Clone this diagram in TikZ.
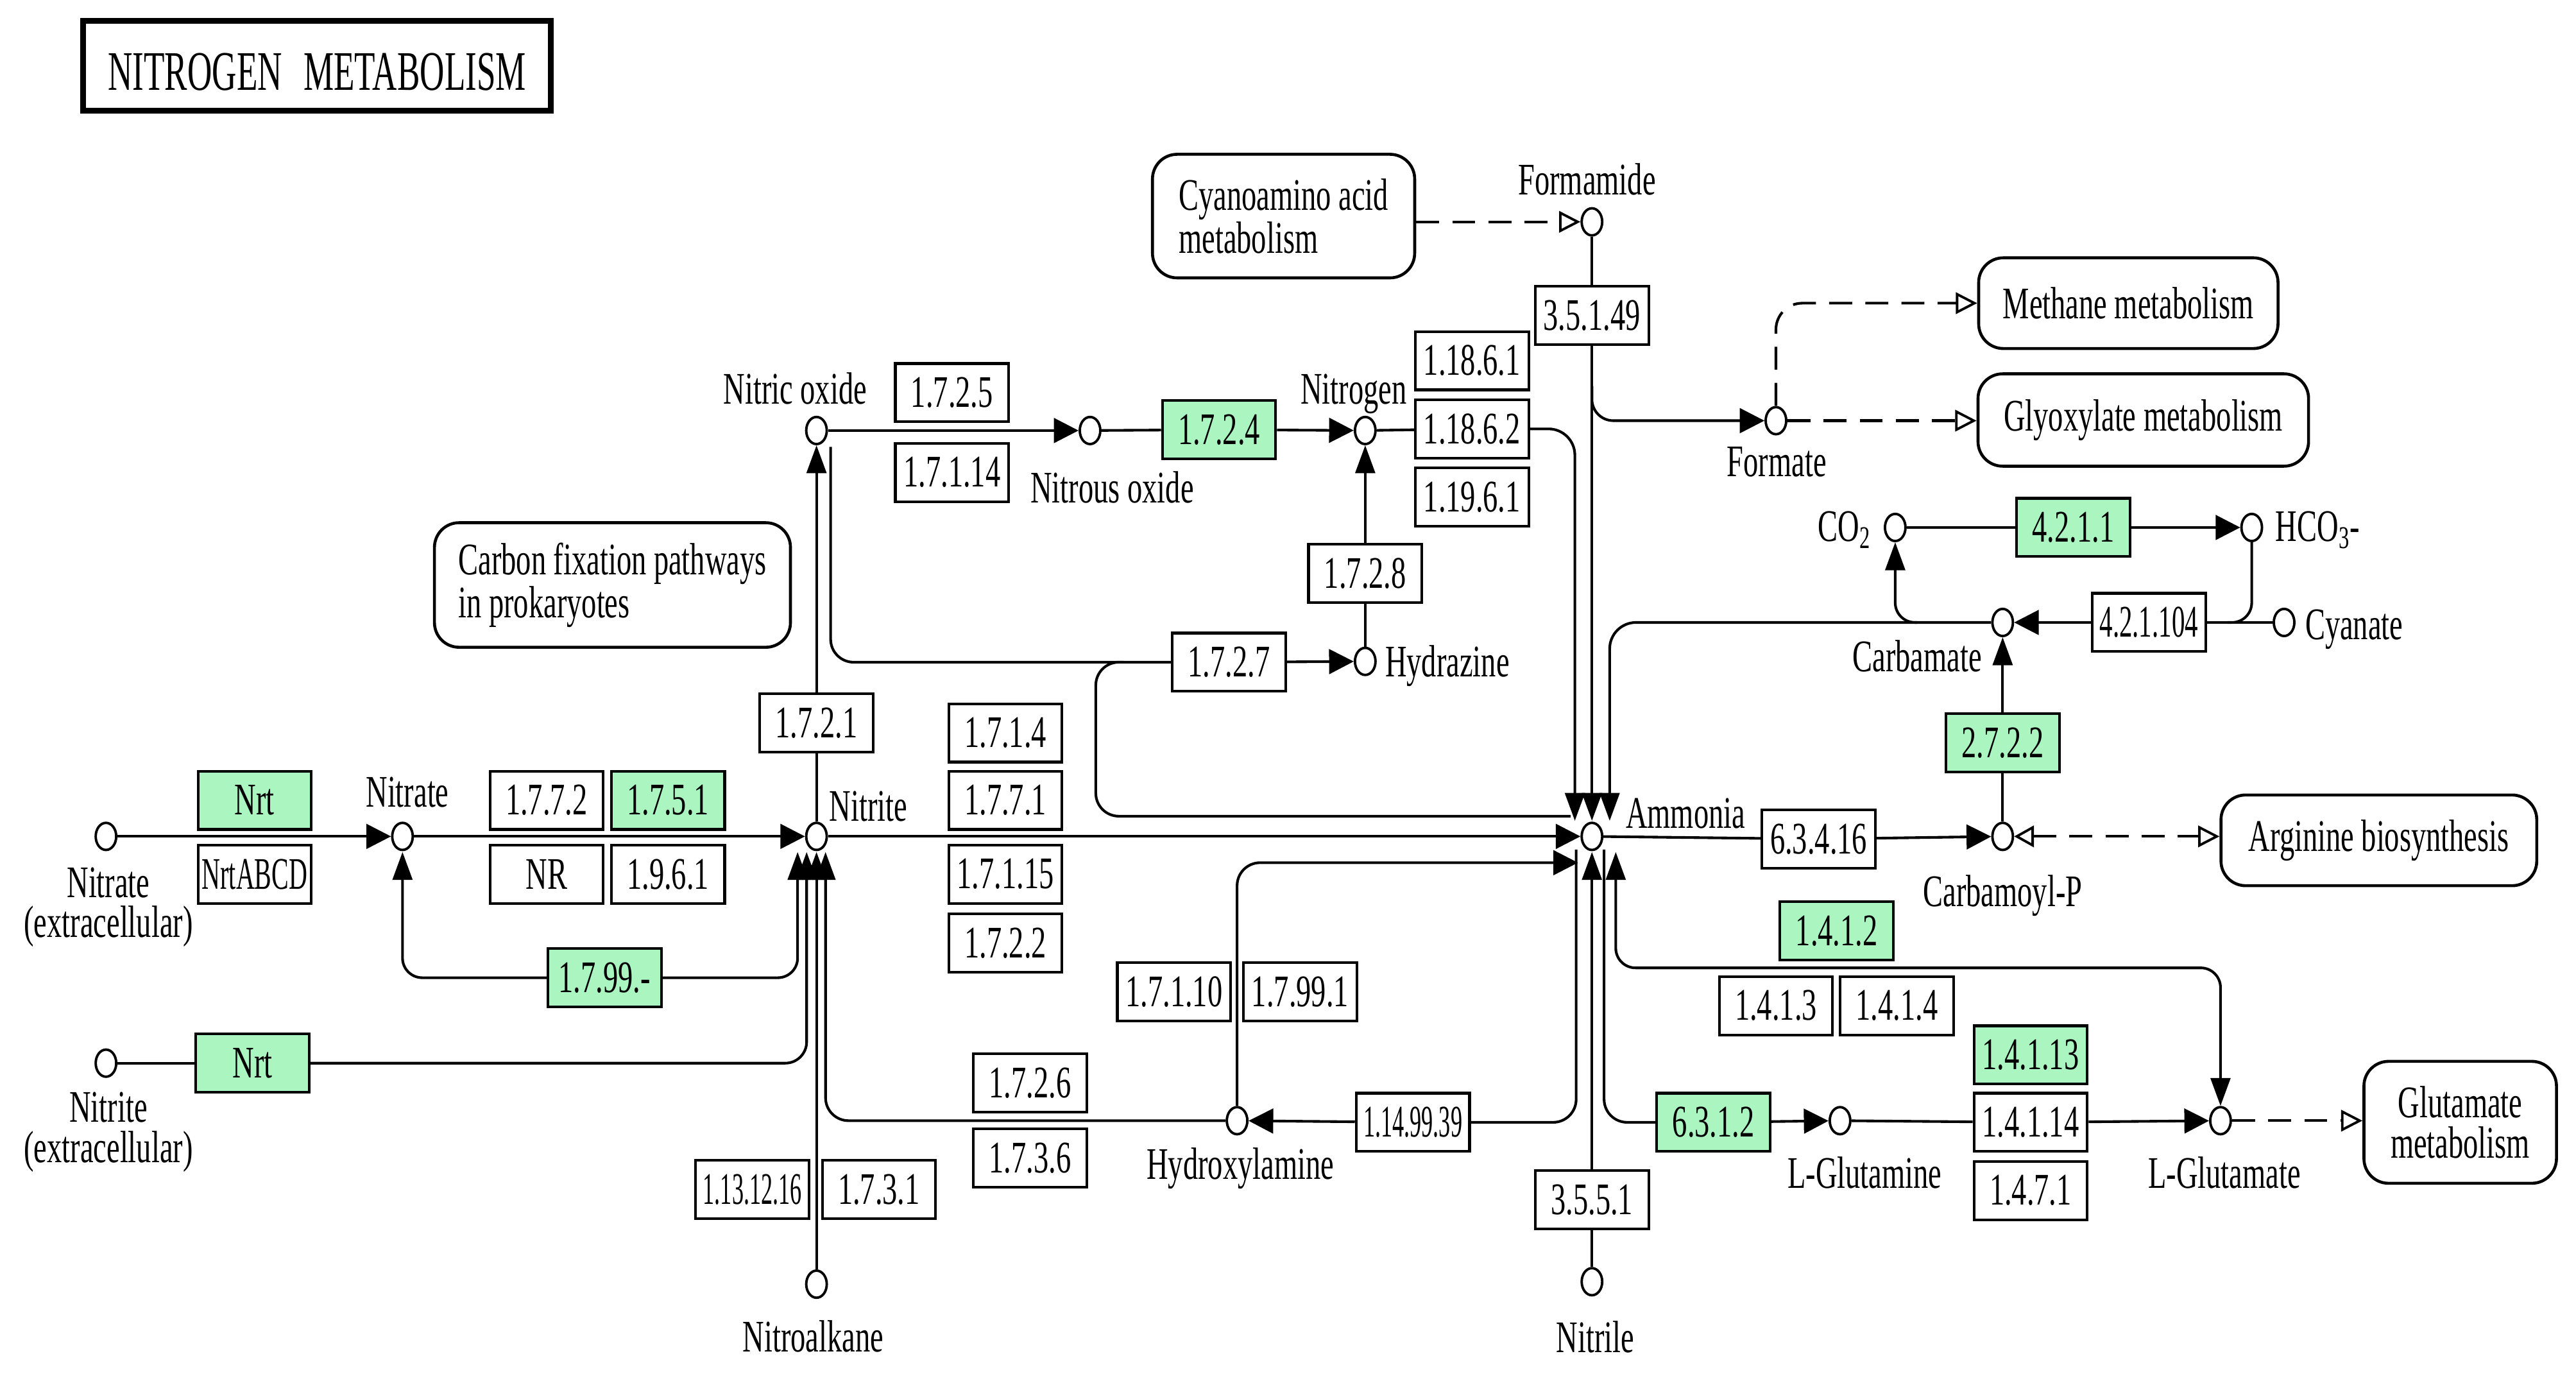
\documentclass[tikz,border=0pt]{standalone}
\usepackage{fontspec}
\setmainfont{Liberation Serif}[FakeStretch=0.66]
\newfontfamily\titlefont{Liberation Serif}[FakeStretch=0.61]
\usepackage{graphicx}
\usetikzlibrary{arrows.meta,shapes.geometric,calc}
\definecolor{kgreen}{RGB}{170,245,192}
\newcommand\kfs{\fontsize{27.5}{24.5}\selectfont}
\newcommand\sq[2]{\scalebox{#1}[1]{#2}}
\tikzset{
  conn/.style={line width=1.6pt},
  harr/.style={conn,-{Triangle[length=15pt,width=15pt]}},
  varr/.style={conn,-{Triangle[length=17pt,width=12pt]}},
  vboth/.style={conn,{Triangle[length=17pt,width=12pt]}-{Triangle[length=17pt,width=12pt]}},
  dsh/.style={line width=1.6pt,dash pattern=on 14pt off 8pt},
  oarr/.style={dsh,-{Triangle[open,length=13pt,width=13pt,line width=1.5pt]}},
  oboth/.style={dsh,{Triangle[open,length=12pt,width=13pt,line width=1.5pt]}-{Triangle[open,length=13pt,width=13pt,line width=1.5pt]}},
  enz/.style={draw,line width=1.6pt,minimum width=69pt,minimum height=35.5pt,inner sep=0pt,fill=white},
  genz/.style={enz,fill=kgreen},
  cpd/.style={ellipse,draw,line width=1.5pt,minimum width=12.5pt,minimum height=16.5pt,inner sep=0pt,fill=white},
  lbl/.style={inner sep=0pt,anchor=base},
  kmap/.style={draw,line width=1.8pt,rounded corners=15pt,inner sep=0pt},
}
\begin{document}
\begin{tikzpicture}[x=1pt,y=-1pt,font=\kfs]
\fill[white] (0,0) rectangle (1568,840.4);
\useasboundingbox (0,0) rectangle (1568,840.4);

% title
\node[draw,line width=3.5pt,minimum width=284.5pt,minimum height=54.5pt,inner sep=0pt] (title) at (193,40) {};
\node[lbl] (titletext) at (193,55) {\titlefont\fontsize{34}{36}\selectfont NITROGEN\hspace{13pt}METABOLISM};

% compounds
\node[cpd] (no) at (497,262) {};
\node[cpd] (n2o) at (663.5,262) {};
\node[cpd] (n2) at (831,262) {};
\node[cpd] (hyz) at (831,402.5) {};
\node[cpd] (formamide) at (969,135) {};
\node[cpd] (formate) at (1081,256) {};
\node[cpd] (co2) at (1153.6,321) {};
\node[cpd] (hco3) at (1370.6,321) {};
\node[cpd] (carbamate) at (1219,378.8) {};
\node[cpd] (cyanate) at (1390.3,378.8) {};
\node[cpd] (nitrateex) at (64.5,509) {};
\node[cpd] (nitrate) at (245,509) {};
\node[cpd] (nitrite) at (497,509) {};
\node[cpd] (ammonia) at (969,509) {};
\node[cpd] (carbp) at (1219,509) {};
\node[cpd] (nitriteex) at (64.5,647) {};
\node[cpd] (nitroalk) at (497,781.5) {};
\node[cpd] (hydroxyl) at (753,682) {};
\node[cpd] (nitrile) at (969,780) {};
\node[cpd] (lgln) at (1120,682) {};
\node[cpd] (lglu) at (1351.6,682) {};

% compound labels
\node[lbl] (lno) at (484,245.7) {Nitric oxide};
\node[lbl] (ln2o) at (677,306) {Nitrous oxide};
\node[lbl] (ln2) at (824,245.7) {Nitrogen};
\node[lbl,anchor=base west] (lhyz) at (843,412) {Hydrazine};
\node[lbl] (lformamide) at (966,118.5) {Formamide};
\node[lbl] (lformate) at (1081.5,290) {Formate};
\node[lbl,anchor=base east] (lco2) at (1139,329.6) {CO\textsubscript{2}};
\node[lbl,anchor=base west] (lhco3) at (1385,329.6) {HCO\textsubscript{3}-};
\node[lbl] (lcarbamate) at (1167,408.5) {Carbamate};
\node[lbl,anchor=base west] (lcyanate) at (1403,389) {Cyanate};
\node[lbl] (lnitex1) at (66,546) {Nitrate};
\node[lbl] (lnitex2) at (66,570.5) {(extracellular)};
\node[lbl] (lnitrate) at (248,491) {Nitrate};
\node[lbl] (lnitrite) at (528.6,499.5) {Nitrite};
\node[lbl] (lammonia) at (1026,503.8) {Ammonia};
\node[lbl] (lcarbp) at (1219,551.7) {Carbamoyl-P};
\node[lbl] (lnitriteex1) at (66,683) {Nitrite};
\node[lbl] (lnitriteex2) at (66,707.5) {(extracellular)};
\node[lbl] (lnitroalk) at (495,822.5) {Nitroalkane};
\node[lbl] (lhydroxyl) at (755,717.6) {Hydroxylamine};
\node[lbl] (lnitrile) at (971,823) {Nitrile};
\node[lbl] (llgln) at (1135,723) {L-Glutamine};
\node[lbl] (llglu) at (1354,723) {L-Glutamate};

% enzymes
\node[enz] (e1725) at (579.5,239) {1.7.2.5};
\node[enz] (e17114) at (579.5,287.5) {1.7.1.14};
\node[genz] (e1724) at (742,261.5) {1.7.2.4};
\node[enz] (e11861) at (896,219.5) {1.18.6.1};
\node[enz] (e11862) at (896,261) {1.18.6.2};
\node[enz] (e11961) at (896,302.5) {1.19.6.1};
\node[enz] (e1728) at (831,349) {1.7.2.8};
\node[enz] (e1727) at (748,403) {1.7.2.7};
\node[enz] (e35149) at (969,192) {3.5.1.49};
\node[genz] (e4211) at (1262,321) {4.2.1.1};
\node[enz] (e421104) at (1308,378.8) {\sq{0.88}{4.2.1.104}};
\node[genz] (e2722) at (1219,452) {2.7.2.2};
\node[enz] (e1721) at (497,440) {1.7.2.1};
\node[genz] (nrt1) at (155,487) {Nrt};
\node[enz] (nrtabcd) at (155,532) {\sq{0.86}{NrtABCD}};
\node[enz] (e1772) at (332.7,487) {1.7.7.2};
\node[genz] (e1751) at (406.6,487) {1.7.5.1};
\node[enz] (enr) at (332.7,532) {NR};
\node[enz] (e1961) at (406.6,532) {1.9.6.1};
\node[enz] (e1714) at (612,446) {1.7.1.4};
\node[enz] (e1771) at (612,487) {1.7.7.1};
\node[enz] (e17115) at (612,532) {1.7.1.15};
\node[enz] (e1722) at (612,574) {1.7.2.2};
\node[enz] (e6341) at (1107,510.6) {6.3.4.16};
\node[genz] (e1799) at (368,595) {1.7.99.-};
\node[genz] (nrt2) at (153.7,647) {Nrt};
\node[genz] (e1412) at (1118,566.5) {1.4.1.2};
\node[enz] (e1413) at (1081,612) {1.4.1.3};
\node[enz] (e1414) at (1154.6,612) {1.4.1.4};
\node[enz] (e17110) at (714.6,603.5) {1.7.1.10};
\node[enz] (e17991) at (791.4,603.5) {1.7.99.1};
\node[enz] (e1726) at (627,659) {1.7.2.6};
\node[enz] (e1736) at (627,704.6) {1.7.3.6};
\node[enz] (e1149939) at (860,683) {\sq{0.78}{1.14.99.39}};
\node[genz] (e6312) at (1043,683) {6.3.1.2};
\node[genz] (e14113) at (1236,642) {1.4.1.13};
\node[enz] (e14114) at (1236,683) {1.4.1.14};
\node[enz] (e1471) at (1236,724.5) {1.4.7.1};
\node[enz] (e1131216) at (458,724) {\sq{0.78}{1.13.12.16}};
\node[enz] (e1731) at (535,724) {1.7.3.1};
\node[enz] (e3551) at (969,730) {3.5.5.1};

% pathway maps
\node[kmap,minimum width=159.6pt,minimum height=75.2pt,align=left] (cyano) at (781.3,131.5) {Cyanoamino acid\\metabolism};
\node[kmap,minimum width=216.7pt,minimum height=75.8pt,align=left] (carbonfix) at (372.8,356) {Carbon fixation pathways\\in prokaryotes};
\node[kmap,minimum width=182.2pt,minimum height=55.2pt] (methane) at (1295.5,184.5) {Methane metabolism};
\node[kmap,minimum width=201.2pt,minimum height=56.2pt] (glyox) at (1304.6,255.6) {Glyoxylate metabolism};
\node[kmap,minimum width=192.2pt,minimum height=55.2pt] (arginine) at (1448,511.4) {Arginine biosynthesis};
\node[kmap,minimum width=117.2pt,minimum height=74.2pt,align=center] (glutmet) at (1497.5,683) {Glutamate\\metabolism};

% helper coordinates
\coordinate (amT1) at (958.6,499.5);
\coordinate (amT2) at (969,499.5);
\coordinate (amT3) at (979.8,499.5);
\coordinate (amL2) at (960.5,525);
\coordinate (amB1) at (969,518.5);
\coordinate (amB2) at (983.5,518.5);
\coordinate (amS1) at (959.4,517);
\coordinate (amS2) at (976.4,517);
\coordinate (amW) at (956,496.7);
\coordinate (niB1) at (485.5,518.5);
\coordinate (niB2) at (491,518.5);
\coordinate (niB3) at (497,518.5);
\coordinate (niB4) at (502.5,518.5);
\coordinate (natB) at (245,518.5);
\coordinate (noR) at (505.6,272);
\coordinate (br1) at (684,403);
\coordinate (k1) at (667,403);
\coordinate (k2) at (667,496.7);
\coordinate (fbr) at (969,235);
\coordinate (gdh) at (1118,589);
\coordinate (hcoJ) at (1356,378.8);
\coordinate (cbr) at (1167,378.8);

% connectors
\draw[harr] (nitrateex) -- (nitrate);
\draw[harr] (nitrate) -- (nitrite);
\draw[harr] (nitrite) -- (ammonia);
\draw[harr] (no) -- (n2o);
\draw[conn] (n2o) -- (e1724);
\draw[harr] (e1724) -- (n2);
\draw[conn] (n2) -- (e11862);
\draw[varr,rounded corners=16pt] (e11862.east) -| (amT1);
\draw[conn] (formamide) -- (e35149);
\draw[varr] (e35149) -- (amT2);
\draw[harr,rounded corners=13pt] (fbr) |- (formate);
\draw[oarr] (formate) -- (glyox.west |- formate);
\draw[oarr,rounded corners=16pt] (formate) |- (methane.west);
\draw[oarr] (cyano.east |- formamide) -- (formamide);
\draw[conn] (hyz) -- (e1728);
\draw[varr] (e1728) -- (n2);
\draw[conn,rounded corners=14pt] (noR) |- (e1727.west);
\draw[harr] (e1727) -- (hyz);
\draw[conn,rounded corners=14pt] (br1) -- (k1) -- (k2) -- (amW);
\draw[conn] (nitrite) -- (e1721);
\draw[varr] (e1721) -- (no);
\draw[varr,rounded corners=12pt] (e1799.west) -| (natB);
\draw[varr,rounded corners=12pt] (e1799.east) -| (niB1);
\draw[conn] (nitriteex) -- (nrt2);
\draw[varr,rounded corners=13pt] (nrt2.east) -| (niB2);
\draw[varr] (nitroalk) -- (niB3);
\draw[varr,rounded corners=14pt] (hydroxyl) -| (niB4);
\draw[conn,rounded corners=14pt] (amS1) |- (e1149939.east);
\draw[harr] (e1149939) -- (hydroxyl);
\draw[harr,rounded corners=14pt] (hydroxyl) |- (amL2);
\draw[conn] (nitrile) -- (e3551);
\draw[varr] (e3551) -- (amB1);
\draw[conn,rounded corners=14pt] (amS2) |- (e6312.west);
\draw[harr] (e6312) -- (lgln);
\draw[vboth,rounded corners=12pt] (amB2) |- (gdh) -| (lglu);
\draw[conn] (lgln) -- (e14114);
\draw[harr] (e14114) -- (lglu);
\draw[oarr] (lglu) -- (glutmet.west |- lglu);
\draw[conn] (ammonia) -- (e6341);
\draw[harr] (e6341) -- (carbp);
\draw[oboth] (carbp) -- (arginine.west |- carbp);
\draw[conn] (carbp) -- (e2722);
\draw[varr] (e2722) -- (carbamate);
\draw[conn] (cyanate) -- (e421104);
\draw[harr] (e421104) -- (carbamate);
\draw[conn,rounded corners=12pt] (hco3) |- (hcoJ);
\draw[varr,rounded corners=16pt] (carbamate) -| (amT3);
\draw[varr,rounded corners=12pt] (cbr) -| (co2);
\draw[conn] (co2) -- (e4211);
\draw[harr] (e4211) -- (hco3);
\end{tikzpicture}
\end{document}
